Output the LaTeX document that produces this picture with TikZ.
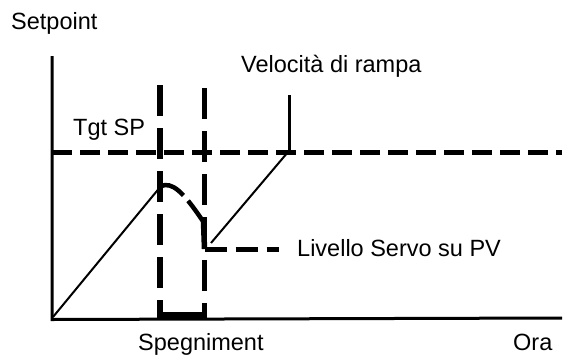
\documentclass[tikz,border=0pt]{standalone}
\usepackage{fontspec}
\setmainfont{Liberation Sans}
\begin{document}
\begin{tikzpicture}[x=1pt,y=-1pt,
  lbl/.style={anchor=base west,inner sep=0pt,font=\fontsize{23.5}{27}\selectfont},
  axis/.style={line width=3pt},
  thin/.style={line width=2pt},
  dashh/.style={line width=5pt,dash pattern=on 20pt off 8pt},
  dashv/.style={line width=5.5pt,dash pattern=on 31pt off 12pt},
  solid thick/.style={line width=6pt}]
\useasboundingbox[fill=white] (0,0) rectangle (565,354);
% coordinates
\coordinate (ytop) at (52,56);
\coordinate (xend) at (562,318);
\coordinate (spL) at (52,152);
\coordinate (spR) at (562,152);
\coordinate (v1t) at (160,85);
\coordinate (v1b) at (160,318);
\coordinate (v2t) at (204.5,88);
\coordinate (v2b) at (204.5,318);
\coordinate (peak) at (161,186);
\coordinate (dip) at (203.5,222);
\coordinate (servo) at (204.5,249);
\coordinate (servoE) at (279,249);
\coordinate (r2s) at (211,243);
\coordinate (r2e) at (288,152);
\coordinate (rt) at (289,95);
% axes
\draw[axis] (ytop) -- (52,319.5) -- (xend);
% target setpoint
\draw[dashh] (spL) -- (spR);
% vertical dashed lines
\draw[dashv] (v1t) -- (v1b);
\draw[dashv] (v2t) -- (v2b);
% thick bottom bar
\draw[solid thick] (160,315) -- (204.5,315);
% ramps
\draw[thin] (53,317) -- (peak);
\draw[thin] (r2s) -- (r2e);
\draw[line width=3pt] (rt) -- (289,153);
% curve
\draw[line width=4.5pt,dash pattern=on 26pt off 7pt] (peak) .. controls (172,182) and (182,190) .. (dip);
\draw[line width=5.5pt] (dip) -- (servo);
\draw[dashh,dash pattern=on 22pt off 9pt] (servo) -- (servoE);
% labels
\node[lbl] (setpoint) at (11,29) {Setpoint};
\node[lbl] (vel) at (241,72) {Velocità di rampa};
\node[lbl] (tgt) at (73,135) {Tgt SP};
\node[lbl] (servotxt) at (297,256) {Livello Servo su PV};
\node[lbl] (speg) at (138,350) {Spegniment};
\node[lbl] (ora) at (513,350) {Ora};
\end{tikzpicture}
\end{document}
